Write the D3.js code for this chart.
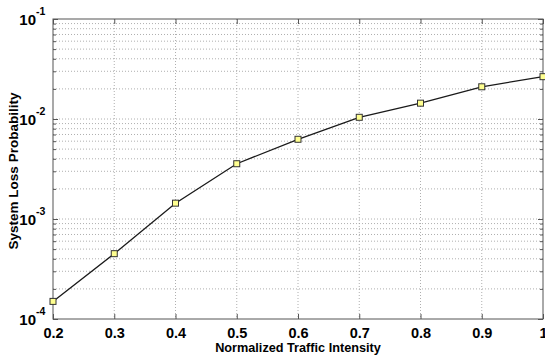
<!DOCTYPE html>
<html>
<head>
<meta charset="utf-8">
<script src="https://cdn.jsdelivr.net/npm/d3@7"></script>
<style>
  body { margin: 0; background: #fff; }
  text { font-family: "Liberation Sans", Arial, sans-serif; font-weight: bold; fill: #000; }
</style>
</head>
<body>
<svg id="chart" width="545" height="358"></svg>
<script>
// traffic intensity vs. loss probability
const intensity = [0.2, 0.3, 0.4, 0.5, 0.6, 0.7, 0.8, 0.9, 1.0];
const lossProb = [1.5e-4, 4.5e-4, 1.44e-3, 3.57e-3, 6.27e-3, 1.04e-2, 1.44e-2, 2.1e-2, 2.65e-2];

const xTicks = [0.2, 0.3, 0.4, 0.5, 0.6, 0.7, 0.8, 0.9, 1];
const yDecades = [1e-4, 1e-3, 1e-2, 1e-1];
const yExponents = ['-4', '-3', '-2', '-1'];

const margin = { top: 19, right: 2, bottom: 39, left: 53 };
const width = 545 - margin.left - margin.right;
const height = 358 - margin.top - margin.bottom;

const svg = d3.select('#chart');
const g = svg.append('g').attr('transform', `translate(${margin.left},${margin.top})`);

const x = d3.scaleLinear().domain([0.2, 1]).range([0, width]);
const y = d3.scaleLog().domain([1e-4, 1e-1]).range([height, 0]);

// all log ticks (major + minor)
const yAll = [];
for (let e = -4; e < -1; e++) {
    for (let m = 1; m < 10; m++) yAll.push(m * Math.pow(10, e));
}
yAll.push(1e-1);

// dotted grid
const grid = g.append('g').attr('stroke', '#9a9a9a').attr('stroke-dasharray', '1,2').attr('stroke-width', 0.8);
grid.selectAll('line.gy').data(yAll.slice(1, -1)).enter().append('line')
    .attr('x1', 0).attr('x2', width)
    .attr('y1', (d) => y(d)).attr('y2', (d) => y(d));
grid.selectAll('line.gx').data(xTicks.slice(1, -1)).enter().append('line')
    .attr('y1', 0).attr('y2', height)
    .attr('x1', (d) => x(d)).attr('x2', (d) => x(d));

// axes, ticks pointing inward like matlab
const tickStyle = (sel) => {
    sel.select('.domain').remove();
    sel.selectAll('.tick line').attr('stroke', '#555');
};

g.append('g').attr('transform', `translate(0,${height})`)
    .call(d3.axisBottom(x).tickValues(xTicks).tickSize(-5).tickPadding(9).tickFormat((d) => d === 1 ? '1' : d3.format('.1f')(d)))
    .call(tickStyle)
    .call((s) => s.selectAll('.tick text').attr('font-size', 14.5).attr('font-family', 'Liberation Sans').attr('font-weight', 'bold').attr('fill', '#000'));

g.append('g')
    .call(d3.axisTop(x).tickValues(xTicks).tickSize(-5).tickFormat(''))
    .call(tickStyle);

const minorY = yAll.filter((d) => !yDecades.includes(d));
g.append('g').call(d3.axisLeft(y).tickValues(minorY).tickSize(-3).tickFormat('')).call(tickStyle);
g.append('g').attr('transform', `translate(${width},0)`)
    .call(d3.axisRight(y).tickValues(minorY).tickSize(-3).tickFormat('')).call(tickStyle);
g.append('g').call(d3.axisLeft(y).tickValues(yDecades).tickSize(-5).tickFormat('')).call(tickStyle);
g.append('g').attr('transform', `translate(${width},0)`)
    .call(d3.axisRight(y).tickValues(yDecades).tickSize(-5).tickFormat('')).call(tickStyle);

// y labels as 10^n
const ylab = g.append('g').selectAll('g').data(yDecades).enter().append('g')
    .attr('transform', (d) => `translate(-10,${y(d)})`);
ylab.append('text').attr('x', -7).attr('y', 6).attr('text-anchor', 'end').attr('font-size', 15).text('10');
ylab.append('text').attr('x', -7).attr('y', -4).attr('font-size', 10.5).text((d, i) => yExponents[i]);

// frame
g.append('rect').attr('width', width).attr('height', height)
    .attr('fill', 'none').attr('stroke', '#555').attr('stroke-width', 1);

// series
const line = d3.line().x((d) => x(d[0])).y((d) => y(d[1]));
const pts = intensity.map((v, i) => [v, lossProb[i]]);
g.append('path').datum(pts).attr('d', line)
    .attr('fill', 'none').attr('stroke', '#1a1a1a').attr('stroke-width', 1.3);
g.selectAll('rect.mk').data(pts).enter().append('rect')
    .attr('class', 'mk')
    .attr('x', (d) => x(d[0]) - 3).attr('y', (d) => y(d[1]) - 3)
    .attr('width', 6).attr('height', 6)
    .attr('fill', '#ffff90').attr('stroke', '#333').attr('stroke-width', 1);

// titles
svg.append('text').attr('x', margin.left + x(0.6)).attr('y', 352)
    .attr('text-anchor', 'middle').attr('font-size', 12.7).text('Normalized Traffic Intensity');
svg.append('text').attr('transform', `translate(18,${margin.top + height / 2 + 2}) rotate(-90)`)
    .attr('text-anchor', 'middle').attr('font-size', 13.5).text('System Loss Probability');
</script>
</body>
</html>
